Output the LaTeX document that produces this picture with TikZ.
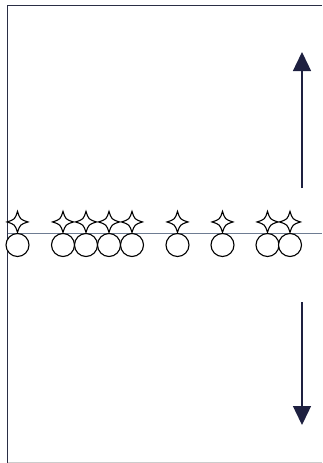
\documentclass[tikz,border=0pt]{standalone}
\usetikzlibrary{arrows.meta}
\definecolor{navy}{HTML}{1E2040}
\definecolor{midline}{HTML}{6E7C92}
\definecolor{frameline}{HTML}{2A2E45}
\tikzset{
  ballcirc/.style={circle,draw=black,line width=1.1pt,minimum size=23pt,inner sep=0pt,fill=white},
  motion/.style={draw=navy,line width=1.4pt,-{Triangle[width=18pt,length=19pt]}},
  starpic/.pic={\draw[line width=1.1pt,fill=white] (0,10.5) .. controls (2.6,2.6) .. (10.5,0) .. controls (2.6,-2.6) .. (0,-10.5) .. controls (-2.6,-2.6) .. (-10.5,0) .. controls (-2.6,2.6) .. cycle;}
}
\begin{document}
\begin{tikzpicture}[x=1pt,y=-1pt]
\useasboundingbox (0,0) rectangle (322,463);
\fill[white] (0,0) rectangle (322,463);
% frame
\draw[frameline,line width=1.4pt] (322,5.5) -- (7.5,5.5) -- (7.5,463);
\draw[gray!40,line width=0.8pt] (7.5,462) -- (322,462);
% midline
\draw[midline,line width=1.3pt] (7.5,233.5) -- (322,233.5);
% circles
\foreach \n/\x in {a/17.5,b/63,c/86,d/109,e/132,f/177.5,g/222.5,h/267.5,i/290}{
  \node[ballcirc] (\n) at (\x,245) {};
}
\foreach \n in {a,b,c,d,e,f,g,h,i}{
  \path (\n.north) ++(0,-11) pic {starpic};
}
% arrows
\coordinate (upfrom) at (302,188);
\coordinate (upto) at (302,52);
\coordinate (downfrom) at (302,302);
\coordinate (downto) at (302,425);
\draw[motion] (upfrom) -- (upto);
\draw[motion] (downfrom) -- (downto);
\end{tikzpicture}
\end{document}
